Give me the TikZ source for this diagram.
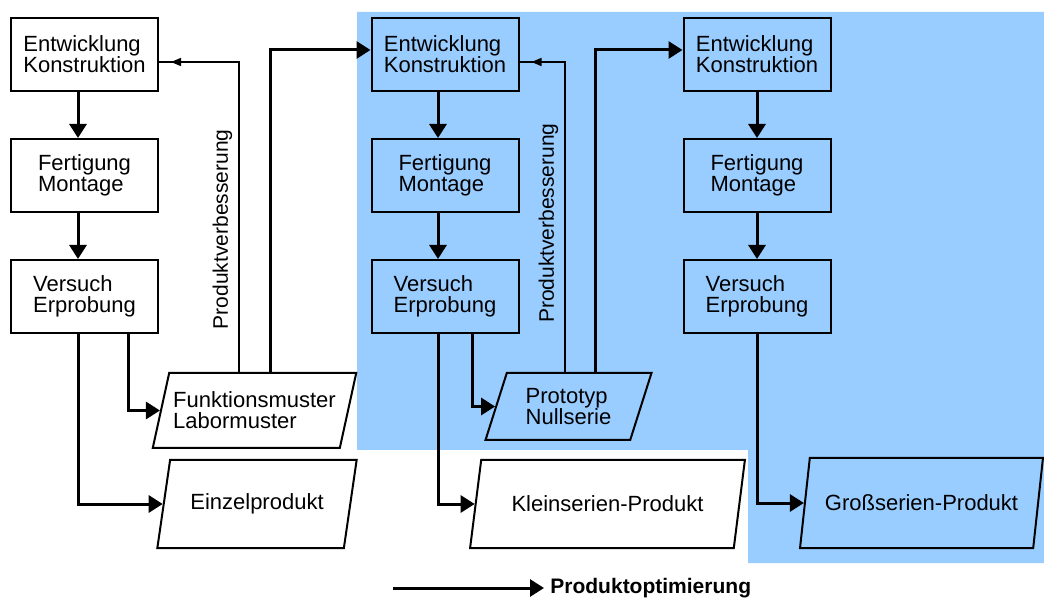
\documentclass[tikz,border=0pt]{standalone}
\usepackage{fontspec}
\setmainfont{Liberation Sans}
\usetikzlibrary{arrows.meta,positioning,shapes.geometric,decorations.markings}
\definecolor{phase}{HTML}{99CCFF}
\tikzset{
  stepbox/.style={draw, line width=1pt, minimum width=73.5pt, minimum height=36.5pt,
    align=left, inner sep=3pt, font=\fontsize{11}{10.5}\selectfont},
  result/.style={draw, line width=1pt, trapezium, trapezium left angle=70,
    trapezium right angle=110, trapezium stretches=true, align=left,
    inner sep=2pt, font=\fontsize{11}{10.5}\selectfont},
  flow/.style={line width=1.5pt, -{Triangle[length=7pt,width=8.5pt]}},
  fb/.style={line width=0.75pt, postaction={decorate},
    decoration={markings, mark=at position -6pt with {\arrow{Triangle[length=5pt,width=4pt]}}}},
  lbl/.style={rotate=90, anchor=south, inner sep=3pt, font=\fontsize{10.5}{11.5}\selectfont},
}

\begin{document}
\begin{tikzpicture}[x=0.5pt, y=-0.5pt, node distance=23pt]
  \useasboundingbox (0,0) rectangle (1044,598);
  % blue area: prototype and series phases
  \fill[phase] (357,12) -- (1044,12) -- (1044,563) -- (748,563) -- (748,450) -- (357,450) -- cycle;

  % three development loops
  \node[stepbox] (e1) at (84.5,54.5) {Entwicklung\\Konstruktion};
  \node[stepbox, below=of e1] (f1) {Fertigung\\Montage};
  \node[stepbox, below=of f1] (v1) {Versuch\\Erprobung};
  \node[stepbox] (e2) at (445,54.5) {Entwicklung\\Konstruktion};
  \node[stepbox, below=of e2] (f2) {Fertigung\\Montage};
  \node[stepbox, below=of f2] (v2) {Versuch\\Erprobung};
  \node[stepbox] (e3) at (757,54.5) {Entwicklung\\Konstruktion};
  \node[stepbox, below=of e3] (f3) {Fertigung\\Montage};
  \node[stepbox, below=of f3] (v3) {Versuch\\Erprobung};

  % results
  \node[result, minimum width=97.5pt, minimum height=37.5pt] (funk) at (254.5,410.5) {Funktionsmuster\\Labormuster};
  \node[result, minimum width=83.5pt, minimum height=33.5pt] (proto) at (568.5,406.5) {Prototyp\\Nullserie};
  \node[result, minimum width=100pt, minimum height=44pt] (einzel) at (257,504) {Einzelprodukt};
  \node[result, minimum width=137.5pt, minimum height=44pt] (klein) at (607.5,504) {Kleinserien-Produkt};
  \node[result, minimum width=121.5pt, minimum height=45pt] (gross) at (921.5,503) {Großserien-Produkt};

  \foreach \x/\y in {e1/f1, f1/v1} \draw[flow] ([xshift=-3.25pt]\x.south) -- ([xshift=-3.25pt]\y.north);
  \foreach \x/\y in {e2/f2, f2/v2} \draw[flow] ([xshift=-3.5pt]\x.south) -- ([xshift=-3.5pt]\y.north);
  \foreach \x/\y in {e3/f3, f3/v3} \draw[flow] (\x) -- (\y);

  \draw[flow] ([xshift=-3.25pt]v1.south) |- (einzel);
  \draw[flow] ([xshift=22pt]v1.south) |- (funk);
  \draw[flow] ([xshift=-3.5pt]v2.south) |- (klein);
  \draw[flow] ([xshift=13.5pt]v2.south) |- (proto);
  \draw[flow] (v3) |- (gross);

  % feedback and next loop
  \draw[fb] (funk.center |- funk.north) ++(-7.75pt,0) |- node[lbl, pos=0.23] {Produktverbesserung} ([yshift=-3.75pt]e1.east);
  \draw[flow] (funk.center |- funk.north) ++(7.75pt,0) |- ([yshift=2.25pt]e2.west);
  \draw[fb] (proto.center |- proto.north) ++(-1.75pt,0) |- node[lbl, pos=0.24] {Produktverbesserung} ([yshift=-3.75pt]e2.east);
  \draw[flow] (proto.center |- proto.north) ++(13.25pt,0) |- ([yshift=2.25pt]e3.west);

  % legend
  \coordinate (lg) at (393,588);
  \node[anchor=west, inner sep=0pt, font=\fontsize{10.5}{11.5}\selectfont\bfseries] (lt) at (550,588) {Produktoptimierung};
  \draw[flow] (lg) -- ([xshift=-3pt]lt.west);
\end{tikzpicture}
\end{document}
